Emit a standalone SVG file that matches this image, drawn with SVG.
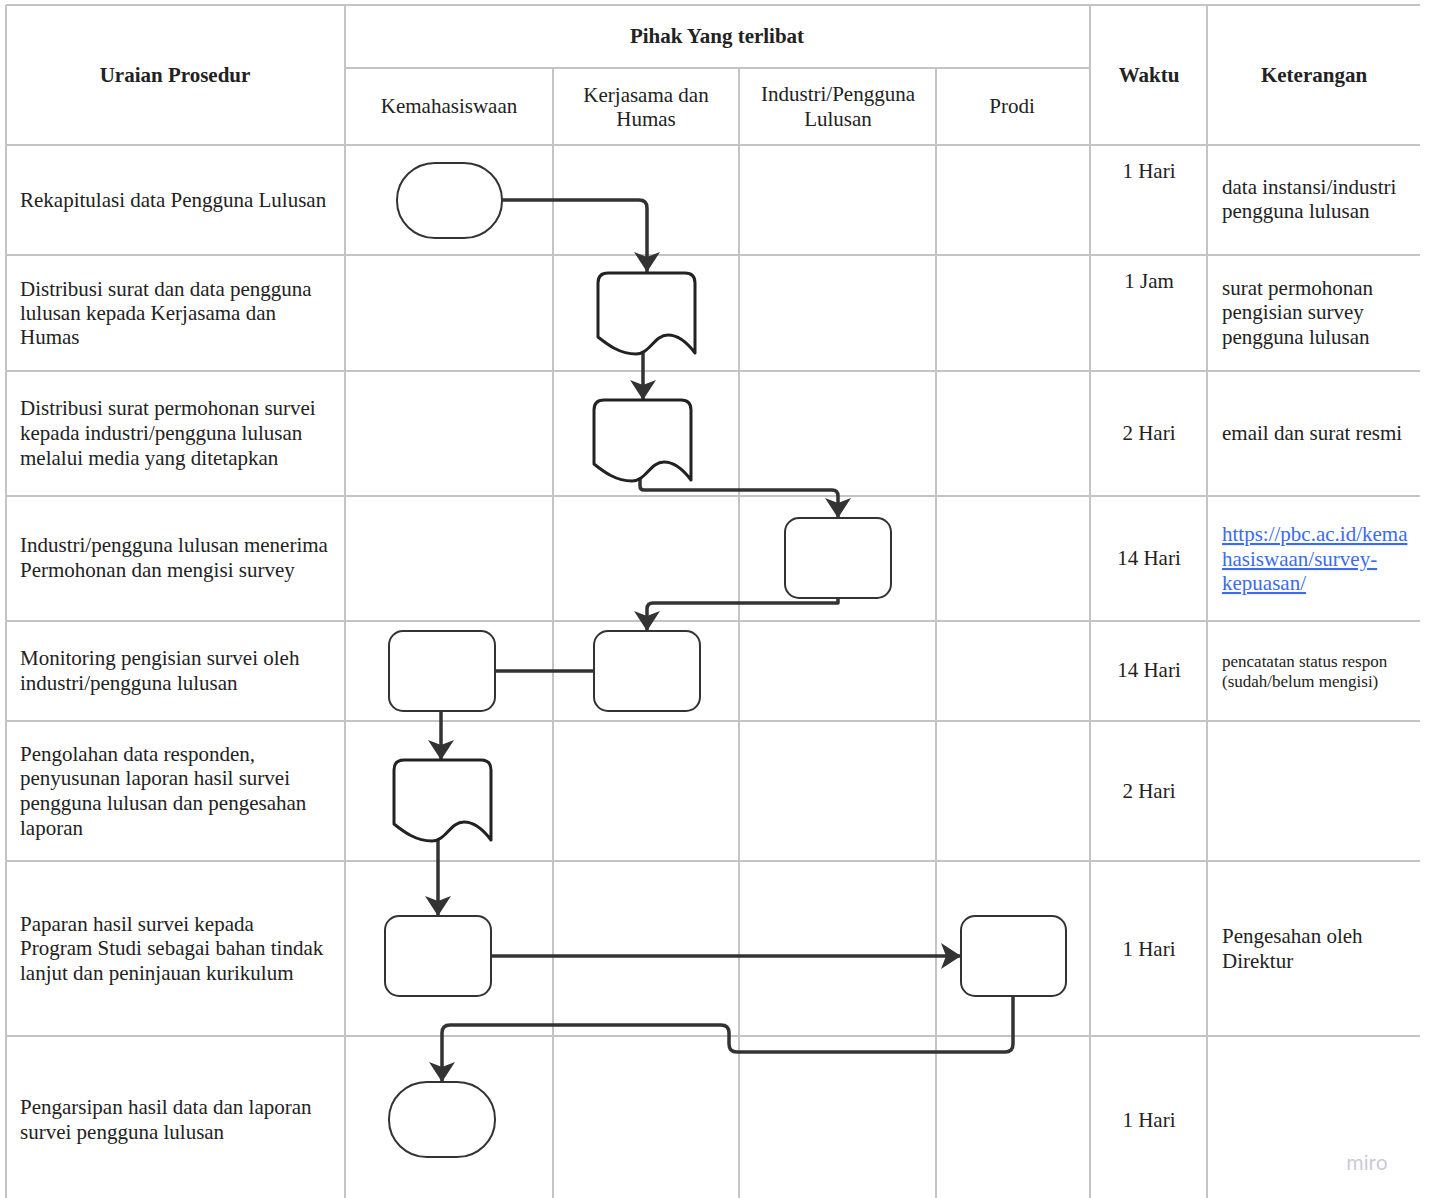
<svg xmlns="http://www.w3.org/2000/svg" xmlns:xlink="http://www.w3.org/1999/xlink" width="1429" height="1198" viewBox="0 0 1429 1198">
<style>
.grid{stroke:#c4c4c4;stroke-width:2;fill:none}
.t{font-family:"Liberation Serif","Times New Roman",serif;font-size:21px;fill:#222}
.b{font-weight:bold}
.c{text-anchor:middle}
.sm{font-size:17px}
.lnk{fill:#3a6bf0;text-decoration:underline}
.shape{fill:#fff;stroke:#333;stroke-width:2}
.docs{fill:#fff;stroke:#222;stroke-width:3;stroke-linejoin:round}
.con{fill:none;stroke:#333;stroke-width:3.5;stroke-linejoin:round}
.arr{marker-end:url(#ah)}
</style>
<defs>
<marker id="ah" viewBox="0 0 20 26" refX="20" refY="13" markerWidth="20" markerHeight="26" orient="auto" markerUnits="userSpaceOnUse">
<path d="M0,0 L20,13 L0,26 L5,13 Z" fill="#333"/>
</marker>
<path id="doc" d="M0,10 Q0,0 10,0 H87 Q97,0 97,10 V80 C88,68 80,62 70,62 C56,62 52,81 38,81 C22,81 10,72 0,64 Z"/>
</defs>
<rect width="1429" height="1198" fill="#fff"/>
<g id="grid">
<line class="grid" x1="6" y1="5" x2="1420" y2="5"/>
<line class="grid" x1="345" y1="68" x2="1090" y2="68"/>
<line class="grid" x1="6" y1="145" x2="1420" y2="145"/>
<line class="grid" x1="6" y1="255" x2="1420" y2="255"/>
<line class="grid" x1="6" y1="371" x2="1420" y2="371"/>
<line class="grid" x1="6" y1="496" x2="1420" y2="496"/>
<line class="grid" x1="6" y1="621" x2="1420" y2="621"/>
<line class="grid" x1="6" y1="721" x2="1420" y2="721"/>
<line class="grid" x1="6" y1="861" x2="1420" y2="861"/>
<line class="grid" x1="6" y1="1036" x2="1420" y2="1036"/>
<line class="grid" x1="6" y1="5" x2="6" y2="1198"/>
<line class="grid" x1="345" y1="5" x2="345" y2="1198"/>
<line class="grid" x1="553" y1="68" x2="553" y2="1198"/>
<line class="grid" x1="739" y1="68" x2="739" y2="1198"/>
<line class="grid" x1="936" y1="68" x2="936" y2="1198"/>
<line class="grid" x1="1090" y1="5" x2="1090" y2="1198"/>
<line class="grid" x1="1207" y1="5" x2="1207" y2="1198"/>
</g>
<g id="header">
<text class="t b c" x="175" y="82">Uraian Prosedur</text>
<text class="t b c" x="717" y="43">Pihak Yang terlibat</text>
<text class="t c" x="449" y="113">Kemahasiswaan</text>
<text class="t c" x="646" y="102">Kerjasama dan</text>
<text class="t c" x="646" y="126">Humas</text>
<text class="t c" x="838" y="101">Industri/Pengguna</text>
<text class="t c" x="838" y="126">Lulusan</text>
<text class="t c" x="1012" y="113">Prodi</text>
<text class="t b c" x="1149" y="82">Waktu</text>
<text class="t b c" x="1314" y="82">Keterangan</text>
</g>
<g id="prosedur">
<text class="t" x="20" y="207">Rekapitulasi data Pengguna Lulusan</text>
<text class="t" x="20" y="296">Distribusi surat dan data pengguna</text>
<text class="t" x="20" y="320">lulusan kepada Kerjasama dan</text>
<text class="t" x="20" y="344">Humas</text>
<text class="t" x="20" y="415">Distribusi surat permohonan survei</text>
<text class="t" x="20" y="440">kepada industri/pengguna lulusan</text>
<text class="t" x="20" y="465">melalui media yang ditetapkan</text>
<text class="t" x="20" y="552">Industri/pengguna lulusan menerima</text>
<text class="t" x="20" y="577">Permohonan dan mengisi survey</text>
<text class="t" x="20" y="665">Monitoring pengisian survei oleh</text>
<text class="t" x="20" y="690">industri/pengguna lulusan</text>
<text class="t" x="20" y="761">Pengolahan data responden,</text>
<text class="t" x="20" y="785">penyusunan laporan hasil survei</text>
<text class="t" x="20" y="810">pengguna lulusan dan pengesahan</text>
<text class="t" x="20" y="835">laporan</text>
<text class="t" x="20" y="931">Paparan hasil survei kepada</text>
<text class="t" x="20" y="955">Program Studi sebagai bahan tindak</text>
<text class="t" x="20" y="980">lanjut dan peninjauan kurikulum</text>
<text class="t" x="20" y="1114">Pengarsipan hasil data dan laporan</text>
<text class="t" x="20" y="1139">survei pengguna lulusan</text>
</g>
<g id="waktu">
<text class="t c" x="1149" y="178">1 Hari</text>
<text class="t c" x="1149" y="288">1 Jam</text>
<text class="t c" x="1149" y="440">2 Hari</text>
<text class="t c" x="1149" y="565">14 Hari</text>
<text class="t c" x="1149" y="677">14 Hari</text>
<text class="t c" x="1149" y="798">2 Hari</text>
<text class="t c" x="1149" y="956">1 Hari</text>
<text class="t c" x="1149" y="1127">1 Hari</text>
</g>
<g id="keterangan">
<text class="t" x="1222" y="194">data instansi/industri</text>
<text class="t" x="1222" y="218">pengguna lulusan</text>
<text class="t" x="1222" y="295">surat permohonan</text>
<text class="t" x="1222" y="319">pengisian survey</text>
<text class="t" x="1222" y="344">pengguna lulusan</text>
<text class="t" x="1222" y="440">email dan surat resmi</text>
<text class="t lnk" x="1222" y="541">https://pbc.ac.id/kema</text>
<text class="t lnk" x="1222" y="566">hasiswaan/survey-</text>
<text class="t lnk" x="1222" y="590">kepuasan/</text>
<text class="t sm" x="1222" y="667">pencatatan status respon</text>
<text class="t sm" x="1222" y="687">(sudah/belum mengisi)</text>
<text class="t" x="1222" y="943">Pengesahan oleh</text>
<text class="t" x="1222" y="968">Direktur</text>
</g>
<g id="connectors">
<path class="con arr" d="M502,200 H639 Q647,200 647,208 V272"/>
<path class="con arr" d="M643,350 V400"/>
<path class="con arr" d="M640,478 V486 Q640,490 644,490 H832 Q838,490 838,496 V518"/>
<path class="con arr" d="M838,598 V603 H653 Q647,603 647,609 V631"/>
<path class="con" d="M495,671 H594"/>
<path class="con arr" d="M441,711 V760"/>
<path class="con arr" d="M438,838 V916"/>
<path class="con arr" d="M491,956 H961"/>
<path class="con arr" d="M1013,996 V1044 Q1013,1052 1005,1052 H737 Q729,1052 729,1044 V1033 Q729,1025 721,1025 H450 Q442,1025 442,1033 V1082"/>
</g>
<g id="n1"><rect class="shape" x="397" y="163" width="105" height="75" rx="38" ry="37"/></g>
<g id="n2"><use href="#doc" class="docs" transform="translate(598,273)"/></g>
<g id="n3"><use href="#doc" class="docs" transform="translate(594,400)"/></g>
<g id="n4"><rect class="shape" x="785" y="518" width="106" height="80" rx="14"/></g>
<g id="n5a"><rect class="shape" x="389" y="631" width="106" height="80" rx="14"/></g>
<g id="n5b"><rect class="shape" x="594" y="631" width="106" height="80" rx="14"/></g>
<g id="n6"><use href="#doc" class="docs" transform="translate(394,760)"/></g>
<g id="n7a"><rect class="shape" x="385" y="916" width="106" height="80" rx="14"/></g>
<g id="n7b"><rect class="shape" x="961" y="916" width="105" height="80" rx="14"/></g>
<g id="n8"><rect class="shape" x="389" y="1082" width="106" height="75" rx="38" ry="37"/></g>
<text x="1367" y="1170" text-anchor="middle" font-family="Inter,'Noto Sans',sans-serif" font-size="20" fill="#c9c9d9">miro</text>
</svg>
